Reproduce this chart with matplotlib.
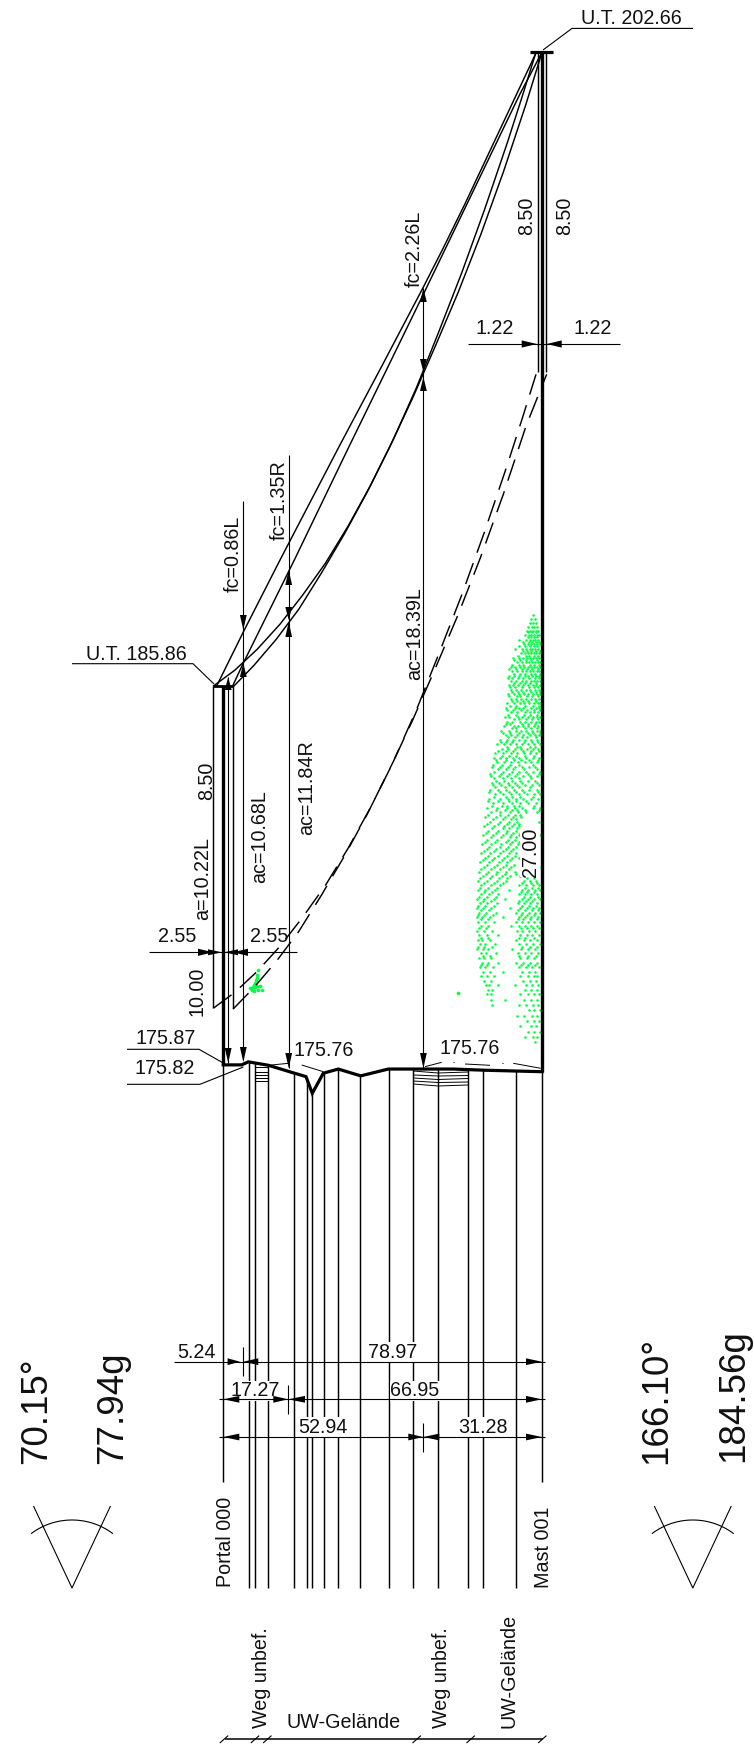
import numpy as np
import matplotlib
matplotlib.use("Agg")
import matplotlib.pyplot as plt
from matplotlib.transforms import Affine2D
from matplotlib.patches import Polygon

plt.rcParams['font.family'] = ['Liberation Sans', 'DejaVu Sans']
plt.rcParams['lines.scale_dashes'] = False

# ---------- data (metres: station along span, elevation) ----------
span = 84.21
terrain_s = [0, 4.86, 6.61, 11.89, 18.49, 21.85, 23.51, 26.42, 30.38, 36.30, 43.59, 60.77, 68.69, 84.21]
terrain_z = [175.94, 175.94, 176.02, 175.93, 175.73, 175.63, 175.19, 175.72, 175.83, 175.65, 175.83, 175.83, 175.80, 175.76]
station_s = [6.66, 8.37, 11.81, 18.68, 22.19, 23.43, 26.61, 30.38, 36.2, 43.65, 50.22, 56.67, 64.65, 68.72, 77.41]

wire_a_s = [-1.74, 5.28, 14.98, 30.83, 42.0, 52.84, 58.0, 63.86, 73.1, 82.62]
wire_a_z = [185.94, 187.36, 189.26, 192.30, 194.40, 196.46, 197.47, 198.66, 200.62, 202.64]
wire_b_s = [2.48, 5.28, 18.76, 32.76, 52.84, 64.65, 78.39, 84.21]
wire_b_z = [185.94, 186.54, 189.26, 192.16, 196.27, 198.71, 201.56, 202.66]
wire_c_s = [-2.56, 3, 9, 15, 21, 27, 33, 39, 45, 51, 57, 63, 69, 75, 79, 82.62]
wire_c_z = [185.94, 186.35, 186.91, 187.57, 188.34, 189.18, 190.16, 191.25, 192.46, 193.80, 195.30, 196.84, 198.50, 200.26, 201.50, 202.66]
wire_d_s = [2.56, 8, 14, 20, 26, 32, 38, 44, 50, 56, 62, 68, 74, 80, 84.21]
wire_d_z = [185.91, 186.47, 187.17, 187.97, 188.93, 189.95, 191.05, 192.25, 193.53, 194.90, 196.31, 197.84, 199.50, 201.30, 202.66]
clearance = 8.50
mast_right_s = 85.43

canopy_rows = [
(187.80,[81.9]),(187.70,[81.4,82.3]),(187.60,[81.0,81.9,82.6]),(187.50,[80.6,81.5,82.2,83.0]),
(187.40,[80.2,81.1,81.8,82.5,83.2]),(187.28,[79.8,80.7,81.4,82.0,82.8,83.4]),
(187.16,[78.2,80.1,81.0,81.7,82.4,83.1]),(187.04,[79.4,80.4,81.3,82.1,82.9,83.6]),
(186.92,[77.0,79.0,80.0,80.9,81.6,82.3,83.2]),(186.80,[78.6,79.6,80.5,81.2,82.0,82.7,83.5]),
(186.68,[76.6,78.1,79.2,80.3,81.0,81.8,82.5,83.3]),(186.56,[77.5,78.8,79.9,80.7,81.5,82.4,83.1,83.8]),
(186.44,[75.9,77.0,78.4,79.5,80.6,81.3,82.2,83.0,83.7]),(186.32,[76.4,77.7,79.0,80.1,81.1,81.9,82.8,83.5]),
(186.20,[75.5,76.9,78.2,79.6,80.5,81.6,82.6,83.4]),(186.08,[75.9,77.3,78.8,80.0,81.2,82.1,83.0,83.8]),
(185.96,[75.4,76.5,77.8,79.2,80.4,81.7,82.7,83.6]),(185.84,[76.1,77.4,78.6,79.9,81.0,82.3,83.3]),
(185.72,[75.3,76.7,78.1,79.4,80.6,81.8,82.9,83.7]),(185.60,[76.0,77.2,78.7,80.0,81.2,82.4,83.4]),
(185.48,[75.0,76.8,78.3,79.5,80.8,82.0,83.1,83.8]),(185.36,[74.8,77.0,78.0,79.2,81.4,82.6,83.5]),
(185.24,[76.1,77.6,79.8,80.9,82.2,83.2]),(185.12,[74.4,75.6,77.9,79.0,80.4,81.8,83.0,83.7]),
(185.00,[75.0,76.3,78.4,79.7,81.2,82.6,83.5]),(184.88,[74.2,76.7,77.8,79.1,80.6,82.0,83.2]),
(184.76,[73.5,75.4,77.2,78.6,80.0,81.5,82.9,83.8]),(184.64,[74.6,76.0,77.6,79.3,80.9,82.3,83.4]),
(184.52,[73.0,75.0,76.6,78.2,79.8,81.3,83.0]),(184.40,[72.4,74.2,75.8,77.4,79.0,80.6,82.1,83.6]),
(184.28,[73.6,75.3,77.0,78.6,80.2,81.8,83.2]),(184.16,[71.8,74.0,75.9,77.7,79.4,81.0,82.6]),
(184.04,[71.4,73.0,74.8,76.5,78.2,80.0,81.7,83.4]),(183.92,[72.2,74.2,76.0,77.8,79.6,81.2,83.0]),
(183.80,[70.9,73.2,75.2,77.1,78.9,80.7,82.4]),(183.68,[71.6,74.0,76.2,78.0,80.0,81.8,83.7]),
(183.56,[70.8,72.8,75.0,77.0,79.2,81.0,83.0]),(183.44,[72.0,74.2,76.4,78.4,80.4,82.4]),
(183.32,[71.2,73.4,75.6,77.6,79.6,81.6,83.5]),(183.20,[70.4,72.6,74.8,76.8,78.8,80.8,82.8]),
(183.08,[71.8,74.0,76.0,78.0,80.2,82.2,83.8]),(182.96,[70.2,73.0,75.2,77.3,79.3,81.4,83.2]),
(182.84,[71.2,74.0,76.4,78.4,80.6,82.6]),(182.72,[69.6,72.4,75.0,77.0,79.0,81.8,83.6]),
(182.60,[70.6,73.2,75.8,77.8,80.0,83.0]),(182.48,[69.2,72.0,74.4,76.6,78.6]),
(182.36,[70.4,73.0,75.6,77.6,83.4]),(182.24,[68.8,71.6,74.2,76.4,78.2]),
(182.12,[70.0,72.6,75.0,77.2]),(182.00,[68.6,71.2,74.0,76.0,78.0,83.6]),
(181.88,[69.8,72.4,75.2,77.0]),(181.76,[68.4,70.8,73.4,75.8,77.8]),
(181.64,[69.6,72.0,74.6,76.6,83.2]),(181.52,[68.0,70.4,73.0,75.4,77.4]),
(181.40,[69.2,71.6,74.2,76.2,78.0]),(181.28,[67.8,70.2,72.8,75.0]),
(181.16,[69.0,71.4,73.8,76.0,83.4]),(181.04,[67.6,70.0,72.4,74.8,77.0]),
(180.92,[68.6,71.0,73.6,75.8,78.4]),(180.80,[67.4,69.6,72.2,74.6,79.4,81.0,82.6]),
(180.68,[68.2,70.6,73.2,78.2,80.0,81.8,83.4]),(180.56,[67.2,69.2,71.8,75.4,79.0,80.6,82.4,83.7]),
(180.44,[68.0,70.2,72.6,78.0,79.8,81.4,83.0]),(180.32,[67.0,69.0,71.4,74.4,78.8,80.4,82.2,83.6]),
(180.20,[67.8,69.8,72.4,77.8,79.4,81.0,82.8]),(180.08,[66.9,68.6,70.8,75.8,78.4,80.2,81.8,83.4]),
(179.96,[67.6,69.4,72.0,77.4,79.0,80.8,82.4,83.8]),(179.84,[67.0,68.4,70.4,74.0,78.0,79.8,81.4,83.2]),
(179.72,[67.4,69.2,71.6,77.2,78.8,80.4,82.0,83.6]),(179.60,[68.0,70.0,76.0,78.2,79.6,81.2,82.8]),
(179.48,[67.0,68.8,71.0,77.6,79.0,80.8,82.4]),(179.36,[67.6,69.6,72.6,78.4,80.2,81.6,83.4]),
(179.24,[67.2,68.4,70.4,77.2,79.4,81.0,82.8]),(179.12,[67.8,69.2,71.8,78.0,80.0,81.8,83.6]),
(179.00,[67.0,68.6,70.0,76.4,78.6,80.6,82.4]),(178.88,[68.2,69.4,72.0,77.8,79.6,81.2,83.2]),
(178.76,[67.6,69.0,70.8,78.4,80.2,82.0]),(178.64,[68.4,70.0,72.6,77.4,79.2,81.0,82.8]),
(178.52,[67.9,69.2,71.2,78.0,80.0,81.6,83.4]),(178.40,[68.6,70.4,74.0,79.0,80.8,82.4]),
(178.28,[68.2,69.8,71.6,78.4,80.4,82.0,83.0]),(178.16,[69.0,70.6,79.2,81.0,82.6]),
(178.04,[69.4,70.2,72.6,77.0,80.0,81.6,83.2]),(177.92,[70.0,71.0,79.6,81.2,82.8]),
(177.80,[69.6,70.6,78.4,80.6,82.2,83.4]),(177.66,[70.8,74.4,79.4,81.4,83.0]),
(177.52,[71.0,78.0,80.0,81.8,83.2]),(177.38,[80.8,82.2,83.6]),
(177.24,[77.6,79.4,81.6,82.8]),(177.10,[80.2,82.0,83.4]),
(176.96,[78.4,81.2,82.6]),(176.82,[80.6,82.2,83.6]),
(176.68,[79.6,81.8,83.0]),(176.54,[82.4]),
]
canopy_rows_fill = [
(187.35,[80.5,81.5,82.7]),(187.22,[80.4,81.2,82.2,83.0]),(187.10,[79.2,80.7,81.5,82.6,83.4]),
(186.98,[78.0,79.7,81.0,82.0,83.0]),(186.86,[79.3,80.2,81.4,82.5,83.7]),(186.74,[77.8,79.9,80.8,82.2,83.1]),
(186.62,[76.9,78.4,80.1,81.3,82.8]),(186.50,[76.2,78.0,79.2,81.0,82.1,83.4]),(186.38,[75.6,77.3,78.9,80.3,81.6,83.2]),
(186.26,[76.8,78.5,79.8,81.4,82.4,83.7]),(186.14,[75.2,76.3,77.9,79.3,80.8,82.4,83.3]),(186.02,[76.8,78.4,79.8,81.0,82.5]),
(185.90,[75.7,77.1,78.9,80.7,82.0,83.1]),(185.78,[76.4,77.9,79.2,81.3,82.6,83.8]),(185.66,[75.6,77.5,78.5,80.3,81.5,83.1]),
(185.54,[76.4,77.7,79.1,80.5,82.7]),(185.42,[75.7,77.4,79.8,81.7,83.3]),(185.30,[74.9,76.6,78.6,80.3,82.0,83.7]),
(185.18,[75.2,77.2,79.4,81.0,82.8]),(185.06,[76.8,78.0,80.0,81.5,83.2]),(184.94,[74.7,75.8,78.8,80.4,82.3]),
(184.82,[76.2,77.4,79.7,81.2,83.0]),(184.70,[74.0,75.7,78.0,80.4,81.9,83.6]),(184.58,[75.3,77.0,78.8,80.2,82.7]),
(184.46,[73.4,74.6,76.2,79.4,81.6,83.2]),(184.34,[75.0,77.7,78.4,80.9,82.4]),(184.22,[72.6,74.6,76.5,79.1,81.4,83.5]),
(184.10,[73.6,75.4,77.2,79.8,82.0]),(183.98,[72.0,74.7,76.9,78.7,80.7,83.1]),(183.86,[71.2,73.7,75.7,78.2,81.7]),
(183.74,[72.6,74.7,76.6,79.5,82.8]),(183.62,[70.5,73.4,75.5,77.6,80.6,83.3]),(183.50,[71.4,74.0,76.0,78.2,81.4]),
(183.38,[70.9,72.9,75.2,77.0,79.0,82.8]),(183.26,[71.9,74.4,76.2,78.0,80.9]),(183.14,[70.2,73.2,75.6,77.4,79.4,83.2]),
(183.02,[71.4,74.8,76.4,78.4,81.9]),(182.90,[69.9,72.5,75.5,77.2,80.0]),(182.78,[70.9,73.6,75.0,76.8,78.2,82.2]),
(182.66,[72.0,74.5,76.2,77.7,79.8,83.5]),(182.54,[69.9,73.0,75.2,77.0,78.4]),(182.42,[71.2,74.0,76.0,77.4]),
(182.30,[69.6,72.5,75.0,76.8,78.0]),(182.18,[71.0,73.8,75.6,77.6]),(182.06,[69.4,72.0,74.8,76.6,78.3]),
(181.94,[70.6,73.4,75.8,77.4]),(181.82,[69.1,71.8,74.6,76.4,78.2]),(181.70,[70.2,73.0,75.2,77.2]),
(181.58,[68.8,71.4,74.0,76.0]),(181.46,[70.0,72.6,75.0,77.0]),(181.34,[68.5,71.0,73.6,75.8]),
(181.22,[69.6,72.2,74.6,76.8]),(181.10,[68.2,70.8,73.2,75.4]),(180.98,[69.4,72.0,74.4,77.4]),
(180.86,[67.9,70.4,72.8,75.0,80.2,82.0]),(180.74,[69.0,71.6,74.0,78.8,81.2,83.0]),(180.62,[67.8,70.0,72.4,79.6,81.6,83.2]),
(180.50,[68.8,71.0,78.6,80.2,82.0]),(180.38,[67.6,69.6,72.0,79.4,81.0,83.2]),(180.26,[68.6,70.6,78.2,80.0,81.6]),
(180.14,[67.3,69.2,71.6,79.0,80.8,82.6]),(180.02,[68.2,70.2,77.8,79.6,81.6,83.2]),(179.90,[67.2,69.0,71.2,78.6,80.2,82.0]),
(179.78,[68.0,70.0,77.8,79.2,81.0,82.8]),(179.54,[67.6,69.4,78.6,80.2,81.8,83.4]),(179.30,[68.2,70.0,78.0,79.8,82.2]),
(179.06,[67.4,69.0,71.0,78.8,81.0,83.0]),(178.82,[68.6,70.4,78.2,80.6,82.6]),(178.58,[68.2,69.8,78.6,80.6,82.4]),
]
blob_s = [9.25, 8.9, 8.64, 8.11, 7.05, 8.37, 9.16, 10.2, 7.58, 9.7, 8.5, 7.8, 9.0, 8.2, 8.8]
blob_z = [178.44, 178.31, 178.18, 178.05, 177.97, 178.0, 177.92, 177.92, 177.92, 178.02, 178.1, 178.0, 178.02, 177.9, 178.24]
lone_s = [62.1]
lone_z = [177.84]

# ---------- scales ----------
W, H = 754, 1752
X0, SX = 223.3, 3.785
Y0, SZ, Z0 = 1071.7, 37.9, 175.76

fig = plt.figure(figsize=(W / 100, H / 100), dpi=100, facecolor='white')
ax = fig.add_axes([0, 0, 1, 1])
ax.set_xlim(-X0 / SX, (W - X0) / SX)
ax.set_ylim(Z0 - (H - Y0) / SZ, Z0 + Y0 / SZ)
ax.axis('off')
page = Affine2D().scale(1, -1).translate(0, H)

THIN, MID, THICK = 0.8, 1.05, 2.2
K = 'black'
FS = 14.2
BIG = 26.5


def z_at(y):
    return Z0 + (Y0 - y) / SZ


def L(xs, ys, lw=THIN, **kw):
    ax.plot(xs, ys, color=K, lw=lw, transform=page, solid_capstyle='butt', clip_on=False, **kw)


def arrow(tx, ty, bx, by, w=3.4):
    d = np.array([bx - tx, by - ty], float)
    d /= np.hypot(*d)
    n = np.array([-d[1], d[0]]) * w
    ax.add_patch(Polygon([(tx, ty), (bx + n[0], by + n[1]), (bx - n[0], by - n[1])],
                         closed=True, fc=K, ec='none', transform=page, zorder=4.5))


def H_text(t, x, y, size=FS, mask=False):
    ax.text(x, y, t, transform=page, ha='center', va='baseline', fontsize=size, color='#111111',
            bbox=dict(fc='white', ec='none', pad=0.4) if mask else None)


def V_text(t, x, y, size=FS, mask=False):
    ax.text(x, y, t, transform=page, ha='center', va='baseline', rotation=90, rotation_mode='anchor',
            fontsize=size, color='#111111', bbox=dict(fc='white', ec='none', pad=0.4) if mask else None)


# ---------- vegetation points ----------
all_rows = canopy_rows + canopy_rows_fill
can_s = [v for _, r in all_rows for v in r]
can_z = [z for z, r in all_rows for _ in r]
ax.scatter(can_s, can_z, s=3.4, c='#00FF40', linewidths=0, zorder=1)
ax.scatter(blob_s, blob_z, s=7, c='#00FF40', linewidths=0, zorder=1)
ax.scatter(lone_s, lone_z, s=7, c='#00FF40', linewidths=0, zorder=1)

# ---------- conductors ----------
for s, z in [(wire_a_s, wire_a_z), (wire_b_s, wire_b_z), (wire_c_s, wire_c_z), (wire_d_s, wire_d_z)]:
    ax.plot(s, z, color=K, lw=MID, solid_joinstyle='round')
dash = (0, (16, 8))
ax.plot(wire_c_s, np.array(wire_c_z) - clearance, color=K, lw=MID, ls=dash)
ax.plot(wire_d_s[:-1] + [mast_right_s], np.array(wire_d_z) - clearance, color=K, lw=MID, ls=dash)
L([213.4, 213.4], [686, 1008], MID)
L([232.7, 232.7], [686, 1008], MID)

# ---------- terrain and stations ----------
ground = np.interp(station_s, terrain_s, terrain_z)
ax.vlines(station_s, z_at(1588), ground, color=K, lw=MID)
ax.vlines([0, span], z_at(1482), [terrain_z[0], terrain_z[-1]], color=K, lw=MID)
ax.plot(terrain_s, terrain_z, color=K, lw=2.3, solid_joinstyle='miter')
for y0 in (1067, 1071.7, 1075, 1078, 1080.7):
    L([255, 267.7], [y0, y0], 0.7)
for a, b, c in [(1071, 1073, 1072), (1075, 1076, 1075.5), (1078, 1079.5, 1078.5), (1081, 1082.5, 1082), (1084, 1086, 1085)]:
    L([413.3, 438, 468], [a, b, c], 0.7)

# ---------- towers ----------
L([222.9, 222.9], [686, 1065], 2.4)
L([228.2, 228.2], [677, 1063], THIN)
L([212.7, 233], [686, 686], 2.0)
L([538, 538], [51, 372], MID)
L([546, 546], [51, 372], MID)
L([542, 542], [51, Y0], 2.4)
L([530, 552.7], [51.7, 51.7], 2.3)

# ---------- vertical dimension lines ----------
L([243.3, 243.3], [501, 1060], THIN)
L([288.7, 288.7], [455, 1068], THIN)
L([423.4, 423.4], [288, 1068], THIN)
for tx, ty, by in [(243.3, 630, 615), (243.3, 663, 677), (243.3, 1062, 1047),
                   (228.2, 677, 690), (228.2, 1063, 1048),
                   (288.7, 570, 585), (288.7, 620, 607), (288.7, 622, 637), (288.7, 1068, 1053),
                   (423.4, 288, 302), (423.4, 372, 359), (423.4, 377, 391), (423.4, 1068, 1053)]:
    arrow(tx, ty, tx, by)

# ---------- leaders ----------
L([693, 572, 543], [28.4, 28.4, 50])
L([72, 193, 214], [663.7, 663.7, 684])
L([127, 199, 223.3], [1049.3, 1049.3, 1063])
L([127, 200, 243.3], [1084.3, 1084.3, 1067])
L([268.3, 288.7], [1065.3, 1063.3], 0.7)
L([301.7, 323.3], [1065, 1071.7], 0.7)
L([425, 441.7], [1066.7, 1062.3], 0.7)
L([453.3, 454.3], [1062.3, 1062.3], 0.7)
L([465, 490], [1064, 1065.3], 0.7)
L([501.7, 502.7], [1063.3, 1063.3], 0.7)
L([513.3, 540.7], [1063.3, 1068.3], 0.7)

# ---------- horizontal dimension lines ----------
L([468, 620], [344, 344], zorder=4)
arrow(537, 344, 521.7, 344, 3.6)
arrow(546.7, 344, 561.7, 344, 3.6)
L([149, 297], [952.3, 952.3], zorder=4)
arrow(213, 952.3, 198, 952.3, 3.6)
arrow(222, 952.3, 208, 952.3, 3.0)
arrow(233, 952.3, 248, 952.3, 3.6)
arrow(224, 952.3, 238, 952.3, 3.0)
L([174, 545], [1361.7, 1361.7], zorder=4)
L([219, 545], [1399.3, 1399.3], zorder=4)
L([219, 545], [1437, 1437], zorder=4)
L([243.3, 243.3], [1346.7, 1376], zorder=4)
L([288.3, 288.3], [1385, 1414], zorder=4)
L([423.3, 423.3], [1422.7, 1451.7], zorder=4)
arrow(240, 1361.7, 227.6, 1361.7)
arrow(243.3, 1361.7, 258.3, 1361.7)
arrow(223.3, 1399.3, 239.3, 1399.3)
arrow(288.3, 1399.3, 273.3, 1399.3)
arrow(288.3, 1399.3, 305, 1399.3)
arrow(223.3, 1437, 239.3, 1437)
arrow(423.3, 1437, 408.3, 1437)
arrow(423.3, 1437, 439.3, 1437)
for yy in (1361.7, 1399.3, 1437):
    arrow(541.8, yy, 526, yy)

# ---------- angle symbols ----------
for cx in (72, 692.8):
    L([cx - 38.5, cx, cx + 38.5], [1506, 1588, 1506])
    th = np.radians(np.linspace(-37, 37, 40))
    L(cx + 68 * np.sin(th), 1588 - 68 * np.cos(th))

# ---------- section ruler ----------
L([225, 543.3], [1739.3, 1739.3], 1.1)
for tick in (224, 255, 267.3, 416.7, 470.7, 542.3):
    L([tick - 4.2, tick + 4.2], [1743, 1735.6], THIN)

# ---------- text ----------
H_text('U.T. 202.66', 631, 24.5)
H_text('U.T. 185.86', 136.7, 660)
H_text('1.22', 495, 334.5)
H_text('1.22', 592.5, 334.5)
H_text('2.55', 177.5, 942.5)
H_text('2.55', 269, 942.5)
H_text('175.87', 165.3, 1044.5)
H_text('175.82', 164.5, 1074.5)
H_text('175.76', 324, 1056.5)
H_text('175.76', 469.3, 1053.8)
H_text('5.24', 196.6, 1358)
H_text('78.97', 392.5, 1358, mask=True)
H_text('17.27', 255.5, 1396.5, mask=True)
H_text('66.95', 415, 1396.5, mask=True)
H_text('52.94', 323.3, 1433, mask=True)
H_text('31.28', 482.5, 1433, mask=True)
H_text('UW-Gelände', 343.7, 1727.7)
V_text('fc=2.26L', 420, 248.6)
V_text('fc=1.35R', 285, 499.7)
V_text('fc=0.86L', 239, 554)
V_text('ac=18.39L', 420, 633.5)
V_text('ac=11.84R', 312, 788)
V_text('ac=10.68L', 265, 837)
V_text('a=10.22L', 208, 878)
V_text('8.50', 212, 781)
V_text('8.50', 531.7, 216)
V_text('8.50', 570, 216)
V_text('10.00', 202.7, 991.7)
V_text('27.00', 535.7, 852, mask=True)
V_text('Portal 000', 230.8, 1542)
V_text('Mast 001', 549, 1547.5)
V_text('Weg unbef.', 266.7, 1678)
V_text('Weg unbef.', 447.3, 1678)
V_text('UW-Gelände', 515, 1671)
V_text('70.15°', 45.7, 1411, BIG)
V_text('77.94g', 122.6, 1408, BIG)
V_text('166.10°', 666, 1400, BIG)
V_text('184.56g', 742.8, 1395.5, BIG)

fig.savefig('out.png', dpi=100, facecolor='white')
